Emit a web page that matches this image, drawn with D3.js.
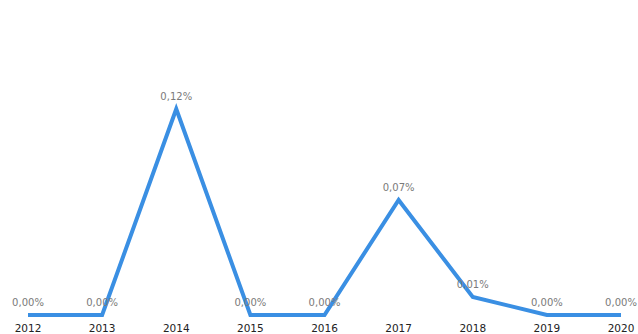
<!DOCTYPE html>
<html>
<head>
<meta charset="utf-8">
<script src="https://cdn.jsdelivr.net/npm/d3@7"></script>
<style>
  html, body { margin: 0; padding: 0; background: #fff; }
  svg { display: block; }
</style>
</head>
<body>
<svg id="chart" width="638" height="334"></svg>
<script>
// Yearly share, as a fraction of one percent unit
const years = ["2012", "2013", "2014", "2015", "2016", "2017", "2018", "2019", "2020"];
const shares = [0, 0, 0.12, 0, 0, 0.067, 0.0105, 0, 0];

const svg = d3.select("#chart");

const x = d3.scalePoint().domain(years).range([28, 621]);
const y = d3.scaleLinear().domain([0, 0.12]).range([315, 109]);

const fmt = v => d3.format(".2f")(v).replace(".", ",") + "%";

const data = years.map((yr, i) => ({ year: yr, value: shares[i] }));

// Year labels along the bottom
svg.append("g")
  .selectAll("text")
  .data(years)
  .join("text")
  .attr("x", d => x(d))
  .attr("y", 332)
  .attr("text-anchor", "middle")
  .attr("font-family", "DejaVu Sans, Verdana, sans-serif")
  .attr("font-size", 10.5)
  .attr("fill", "#222")
  .text(d => d);

// Trend line
const line = d3.line()
  .x(d => x(d.year))
  .y(d => y(d.value));

svg.append("path")
  .datum(data)
  .attr("d", line)
  .attr("fill", "none")
  .attr("stroke", "#3a8fe3")
  .attr("stroke-width", 4)
  .attr("stroke-linejoin", "miter");

// Value labels above each point
svg.append("g")
  .selectAll("text")
  .data(data)
  .join("text")
  .attr("x", d => x(d.year))
  .attr("y", d => y(d.value) - 9)
  .attr("text-anchor", "middle")
  .attr("font-family", "DejaVu Sans, Verdana, sans-serif")
  .attr("font-size", 10)
  .attr("fill", "#7a7a7a")
  .text(d => fmt(d.value));
</script>
</body>
</html>
